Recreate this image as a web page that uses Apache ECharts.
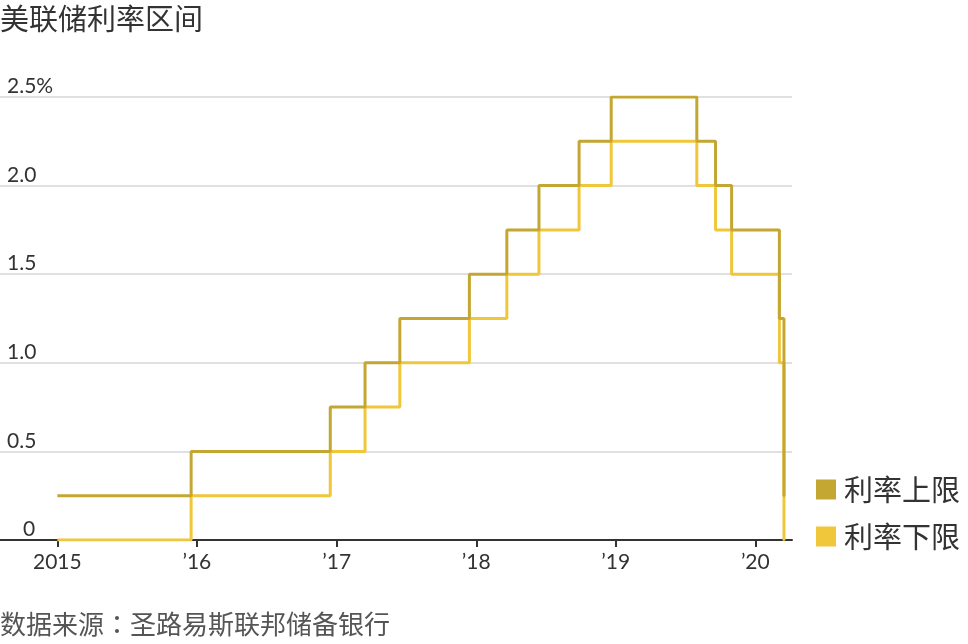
<!DOCTYPE html>
<html>
<head>
<meta charset="utf-8">
<script src="https://cdn.jsdelivr.net/npm/echarts@6/dist/echarts.min.js"></script>
<style>html,body{margin:0;padding:0;background:#fff}#c{width:968px;height:644px}</style>
</head>
<body>
<div id="c"></div>
<script>
var titleText = '美联储利率区间';
var sourceLabel = '数据来源';
var sourceName = '圣路易斯联邦储备银行';
var seriesNames = ['利率上限', '利率下限'];
var changeDates = ['2015-01-01','2015-12-17','2016-12-15','2017-03-16','2017-06-15','2017-12-14','2018-03-22','2018-06-14','2018-09-27','2018-12-20','2019-08-01','2019-09-19','2019-10-31','2020-03-04','2020-03-16','2020-03-18'];
var upperValues = [0.25,0.5,0.75,1.0,1.25,1.5,1.75,2.0,2.25,2.5,2.25,2.0,1.75,1.25,0.25,0.25];
var lowerValues = [0,0.25,0.5,0.75,1.0,1.25,1.5,1.75,2.0,2.25,2.0,1.75,1.5,1.0,0,0];
var yearTicks = ['2015-01-01','2016-01-01','2017-01-01','2018-01-01','2019-01-01','2020-01-01'];
var yearLabels = ['2015','\u201916','\u201917','\u201918','\u201919','\u201920'];

function ts(s){ return +new Date(s + 'T00:00:00Z'); }
var tickTs = yearTicks.map(ts);
function pairs(vals){ return changeDates.map(function(d,i){ return [ts(d), vals[i]]; }); }

var font = 'Lato, "Noto Sans", sans-serif';
var cjk = '"Noto Sans CJK SC", sans-serif';
var chart = echarts.init(document.getElementById('c'), null, {renderer:'canvas'});
chart.setOption({
  animation: false,
  backgroundColor: '#fff',
  title: [
    {text: titleText, left: 0, top: 4, padding: 0, textStyle: {fontFamily: cjk, fontSize: 29, fontWeight: 'normal', color: '#333'}},
    {text: sourceLabel + '{c|：}' + sourceName, left: 0, top: 611, padding: 0,
     textStyle: {fontFamily: cjk, fontSize: 26, fontWeight: 'normal', color: '#555',
       rich: {c: {fontFamily: '"Noto Sans CJK JP", sans-serif', fontSize: 26, color: '#555'}}}}
  ],
  legend: {
    orient: 'vertical', left: 811, top: 470, padding: 5,
    data: seriesNames,
    itemWidth: 20, itemHeight: 20, itemGap: 18,
    icon: 'rect',
    textStyle: {fontFamily: cjk, fontSize: 29, color: '#333', padding: [0,0,0,3]}
  },
  grid: {left: 0, right: 176, top: 97, bottom: 104, containLabel: false},
  xAxis: {
    type: 'value',
    min: ts('2014-08-04'), max: ts('2020-04-06'),
    axisLine: {lineStyle: {color: '#333', width: 2}},
    axisTick: {show: true, customValues: tickTs, length: 7, lineStyle: {color: '#333', width: 2}},
    axisLabel: {
      customValues: tickTs, margin: 12, color: '#333', fontFamily: font, fontSize: 21,
      formatter: function(v){ var i = tickTs.indexOf(v); return i >= 0 ? yearLabels[i] : ''; }
    },
    splitLine: {show: false}
  },
  yAxis: {
    type: 'value', min: 0, max: 2.5, interval: 0.5,
    axisLine: {show: false}, axisTick: {show: false},
    splitLine: {lineStyle: {color: '#e0e0e0', width: 2}},
    axisLabel: {
      inside: true, margin: 7, align: 'left', verticalAlign: 'bottom',
      color: '#333', fontFamily: font, fontSize: 21, padding: [0,0,0,0],
      formatter: function(v){
        if (v === 0) return '{z|0}';
        if (v === 2.5) return '2.5%';
        return v.toFixed(1);
      },
      rich: {z: {padding: [0,0,0,16], fontFamily: font, fontSize: 21, color: '#333'}}
    }
  },
  series: [
    {name: seriesNames[1], type: 'line', step: 'end', showSymbol: false, symbol: 'none', z: 2,
     data: pairs(lowerValues), itemStyle: {color: '#f0c63a'}, lineStyle: {color: '#f0c63a', width: 3}},
    {name: seriesNames[0], type: 'line', step: 'end', showSymbol: false, symbol: 'none', z: 3,
     data: pairs(upperValues), itemStyle: {color: '#c4a632'}, lineStyle: {color: '#c4a632', width: 3}}
  ]
});
</script>
</body>
</html>
